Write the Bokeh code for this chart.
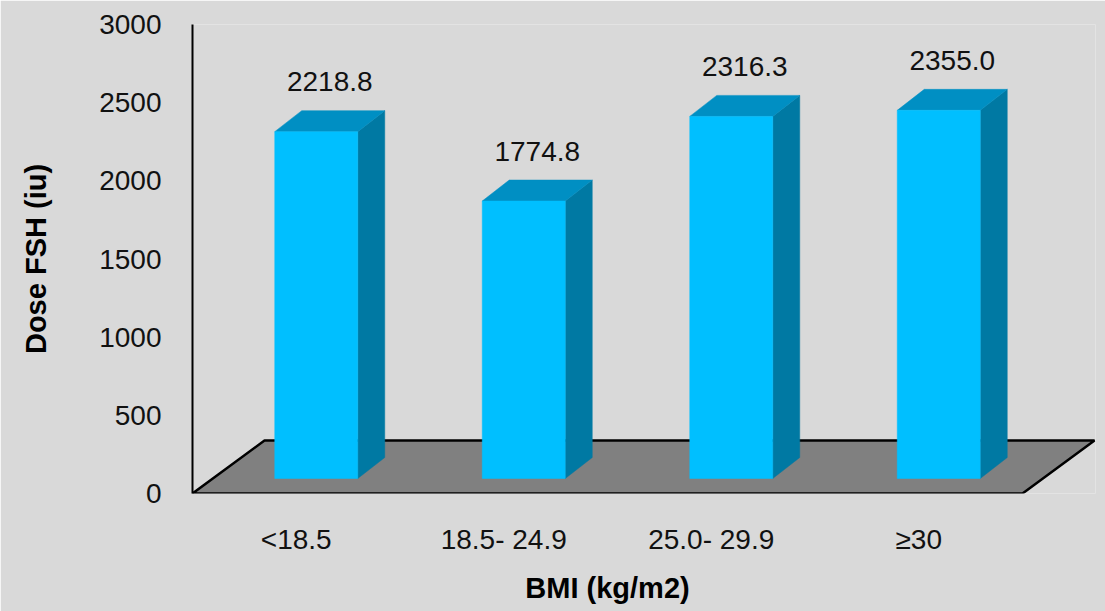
from bokeh.plotting import figure
from bokeh.models import Range1d, FixedTicker, ColumnDataSource, LinearAxis
from bokeh.core.properties import value
from bokeh.embed import file_html
from bokeh.resources import INLINE

# ---- data ----
categories = ["<18.5", "18.5- 24.9", "25.0- 29.9", "\u226530"]
doses = [2218.8, 1774.8, 2316.3, 2355.0]
y_ticks = [0, 500, 1000, 1500, 2000, 2500, 3000]
x_title = "BMI (kg/m2)"
y_title = "Dose FSH (iu)"

# ---- layout constants (pixels) ----
W, H = 1105, 611
FL, FR, FT, FB = 192, 1095, 24, 493
PX_PER_CAT = 207.5
Y_MAX = 3000
PX_PER_UNIT = (FB - FT) / Y_MAX

def px_x(p):
    return p / PX_PER_CAT

def px_y(p):
    return p / PX_PER_UNIT

n = len(categories)
floor_dx, floor_dy = px_x(72), px_y(53)
bar_sx, bar_sy = px_x(20), px_y(15)
bar_dx, bar_dy = px_x(27), px_y(21)
half_w = px_x(83) / 2

FONT = "Liberation Sans"
front_c, top_c, side_c = "#00BFFF", "#008FC3", "#0079A3"
bg = "#D9D9D9"

p = figure(width=W, height=H, output_backend="svg", toolbar_location=None,
           x_range=Range1d(0, px_x(FR - FL)), y_range=Range1d(0, Y_MAX),
           min_border_left=FL, min_border_right=W - FR,
           min_border_top=FT, min_border_bottom=H - FB)
p.background_fill_color = bg
p.border_fill_color = bg
p.outline_line_color = None
p.grid.visible = False

# floor
p.patch([0, n, n + floor_dx, floor_dx], [0, 0, floor_dy, floor_dy],
        fill_color="#808080", line_color="#000000", line_width=2.5)

# bars
for i, v in enumerate(doses):
    c = i + 0.5 + bar_sx
    L, R = c - half_w, c + half_w
    b0 = bar_sy
    T = b0 + v
    p.patch([R, R + bar_dx, R + bar_dx, R], [b0, b0 + bar_dy, T + bar_dy, T],
            fill_color=side_c, line_color=side_c, line_width=0.5)
    p.patch([L, R, R + bar_dx, L + bar_dx], [T, T, T + bar_dy, T + bar_dy],
            fill_color=top_c, line_color=top_c, line_width=0.5)
    p.quad(left=[L], right=[R], bottom=[b0], top=[T],
           fill_color=front_c, line_color=front_c, line_width=0.5)

# value labels
src = ColumnDataSource(dict(
    x=[i + 0.5 + bar_sx + bar_dx / 2 for i in range(n)],
    y=[bar_sy + v + bar_dy + px_y(29) for v in doses],
    t=["%.1f" % v for v in doses],
))
p.text(x="x", y="y", text="t", source=src, text_align="center",
       text_baseline="alphabetic", text_font=value(FONT),
       text_font_size="28px", text_color="#111111")

# y axis
ya = p.yaxis[0]
ya.ticker = FixedTicker(ticks=y_ticks)
ya.axis_line_color = "#000000"
ya.axis_line_width = 2
ya.major_tick_out = 0
ya.major_tick_in = 0
ya.minor_tick_out = 0
ya.minor_tick_in = 0
ya.major_label_standoff = 31
ya.major_label_text_font = FONT
ya.major_label_text_font_size = "28px"
ya.major_label_text_color = "#111111"
ya.axis_label = y_title
ya.axis_label_text_font = FONT
ya.axis_label_text_font_size = "29px"
ya.axis_label_text_font_style = "bold"
ya.axis_label_text_color = "#000000"
ya.axis_label_standoff = 44

def plain_x_axis(ax, standoff):
    ax.axis_line_color = None
    ax.major_tick_out = 0
    ax.major_tick_in = 0
    ax.minor_tick_out = 0
    ax.minor_tick_in = 0
    ax.major_label_standoff = standoff
    ax.major_label_text_font = FONT

# x axis with category labels
xa = p.xaxis[0]
xa.ticker = FixedTicker(ticks=[i + 0.5 for i in range(n)])
xa.major_label_overrides = {i + 0.5: c for i, c in enumerate(categories)}
plain_x_axis(xa, 30)
xa.major_label_text_font_size = "28px"
xa.major_label_text_color = "#111111"

# x title, centred under the floor's front edge
xt = LinearAxis(ticker=FixedTicker(ticks=[n / 2]),
                major_label_overrides={n / 2: x_title})
plain_x_axis(xt, 14)
xt.major_label_text_font_size = "29px"
xt.major_label_text_font_style = "bold"
xt.major_label_text_color = "#000000"
p.add_layout(xt, "below")

open("out.html", "w").write(file_html(p, INLINE))
